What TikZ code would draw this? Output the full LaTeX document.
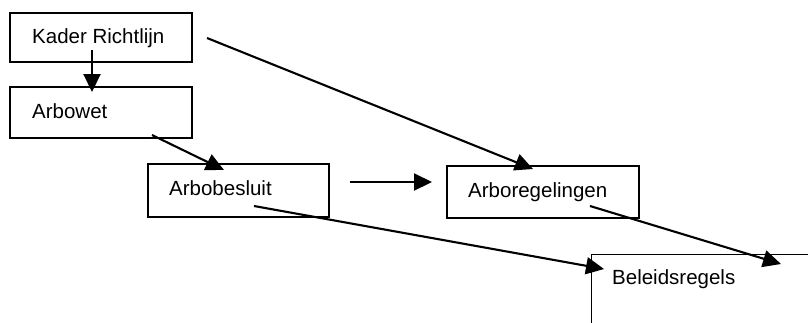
\documentclass[tikz,border=0pt]{standalone}
\usepackage{fontspec}
\setmainfont{Liberation Sans}
\usetikzlibrary{arrows.meta}
\begin{document}
\begin{tikzpicture}[x=1pt,y=-1pt,
  box/.style={draw=black, line width=1.4pt, rectangle, inner sep=0pt},
  lbl/.style={anchor=base west, inner sep=0pt, font=\fontsize{20.5}{24}\selectfont},
  conn/.style={line width=2.1pt, -{Triangle[length=18pt,width=17pt]}}]
\useasboundingbox (0,0) rectangle (808,322);
\clip (0,0) rectangle (808,322);
% boxes
\node[box, minimum width=182pt, minimum height=49pt] (kader) at (101,37.5) {};
\node[box, minimum width=182pt, minimum height=51pt] (arbowet) at (101,112.5) {};
\node[box, minimum width=181pt, minimum height=53pt] (besluit) at (238.5,190.5) {};
\node[box, minimum width=192pt, minimum height=52pt] (regel) at (543,192) {};
\node[box, minimum width=300pt, minimum height=150pt, anchor=north west] (beleid) at (591,254) {};
% labels
\node[lbl] (tkader) at (32,43) {Kader Richtlijn};
\node[lbl] (tarbowet) at (32,118) {Arbowet};
\node[lbl] (tbesluit) at (169,195) {Arbobesluit};
\node[lbl] (tregel) at (468,197) {Arboregelingen};
\node[lbl] (tbeleid) at (612,284) {Beleidsregels};
% connector end points
\coordinate (a1) at (92,50);   \coordinate (a2) at (92,92);
\coordinate (b1) at (152,135); \coordinate (b2) at (224,170);
\coordinate (c1) at (350,182); \coordinate (c2) at (432,182);
\coordinate (d1) at (207,38);  \coordinate (d2) at (533,169);
\coordinate (e1) at (254,206); \coordinate (e2) at (604,269);
\coordinate (f1) at (590,206); \coordinate (f2) at (781,264);
% connectors
\draw[conn] (a1) -- (a2);
\draw[conn] (b1) -- (b2);
\draw[conn] (c1) -- (c2);
\draw[conn] (d1) -- (d2);
\draw[conn] (e1) -- (e2);
\draw[conn] (f1) -- (f2);
\end{tikzpicture}
\end{document}
